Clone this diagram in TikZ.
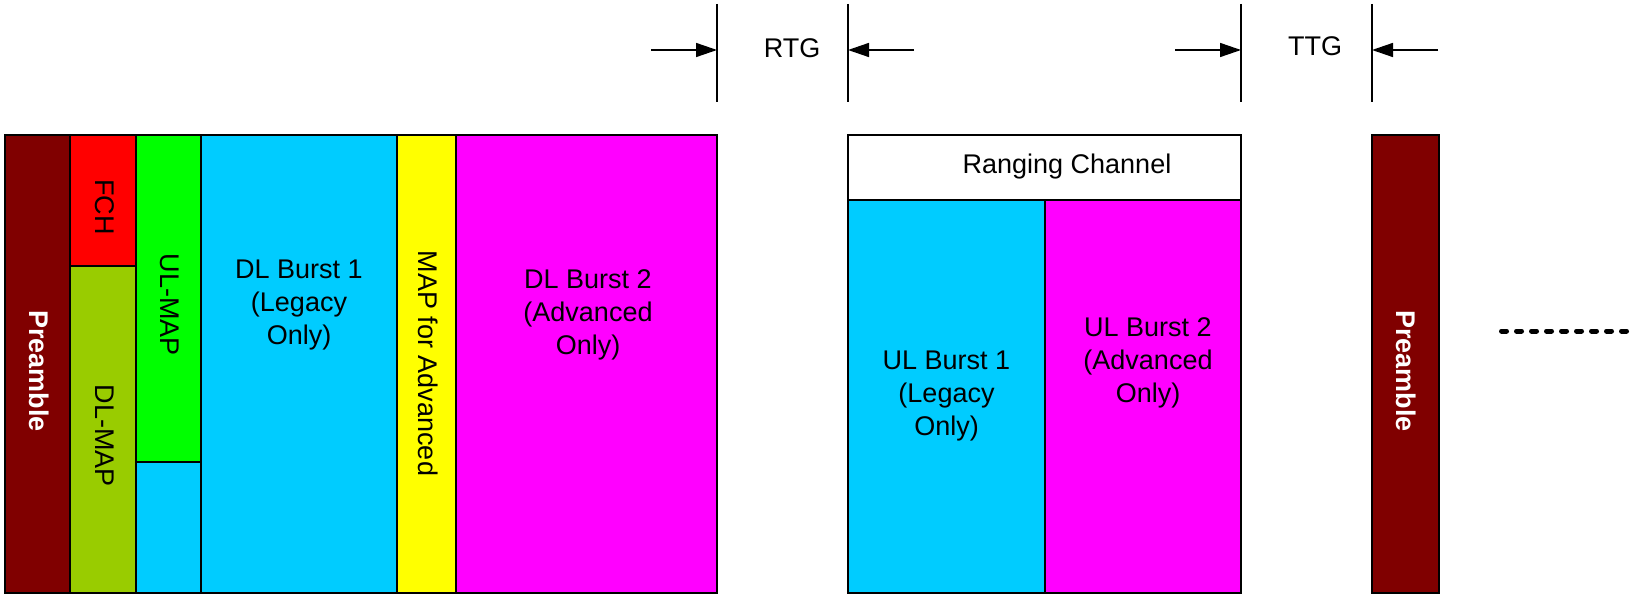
\documentclass[tikz,border=0pt]{standalone}
\usepackage{fontspec}
\setmainfont{Liberation Sans}
\usetikzlibrary{arrows.meta}
\definecolor{maroonbar}{HTML}{800000}
\definecolor{fchred}{HTML}{FF0000}
\definecolor{dlmapgreen}{HTML}{99CC00}
\definecolor{ulmapgreen}{HTML}{00FF00}
\definecolor{legacycyan}{HTML}{00CCFF}
\definecolor{mapyellow}{HTML}{FFFF00}
\definecolor{advmagenta}{HTML}{FF00FF}
\begin{document}
\begin{tikzpicture}[x=1pt,y=-1pt,
  cell/.style={draw=black,line width=1.6pt,inner sep=0pt,outer sep=0pt},
  lbl/.style={font=\fontsize{27}{33}\selectfont,align=center,inner sep=0pt},
  vlbl/.style={lbl,rotate=-90},
  prelbl/.style={vlbl,text=white,font=\fontsize{27}{33}\selectfont\bfseries},
  gapline/.style={draw=black,line width=1.7pt},
  gaparrow/.style={draw=black,line width=1.5pt,-{Triangle[length=21pt,width=14pt]}}]
\useasboundingbox (0,0) rectangle (1632,596);

% downlink subframe
\node[cell,fill=maroonbar,minimum width=65pt,minimum height=458pt] (pre1) at (37.5,364) {};
\node[cell,fill=fchred,minimum width=66pt,minimum height=131pt] (fch) at (103,200.5) {};
\node[cell,fill=dlmapgreen,minimum width=66pt,minimum height=327pt] (dlmap) at (103,429.5) {};
\node[cell,fill=ulmapgreen,minimum width=65pt,minimum height=327pt] (ulmap) at (168.5,298.5) {};
\node[cell,fill=legacycyan,minimum width=65pt,minimum height=131pt] (dlpad) at (168.5,527.5) {};
\node[cell,fill=legacycyan,minimum width=196pt,minimum height=458pt] (dlb1) at (299,364) {};
\node[cell,fill=mapyellow,minimum width=59pt,minimum height=458pt] (mapadv) at (426.5,364) {};
\node[cell,fill=advmagenta,minimum width=261pt,minimum height=458pt] (dlb2) at (586.5,364) {};

\node[prelbl] (pre1txt) at (39,371) {Preamble};
\node[vlbl] (fchtxt) at (105,207) {FCH};
\node[vlbl] (dlmaptxt) at (105,436) {DL-MAP};
\node[vlbl] (ulmaptxt) at (170,305) {UL-MAP};
\node[vlbl] (mapadvtxt) at (428,363.5) {MAP for Advanced};
\node[lbl] (dlb1txt) at (299,305) {DL Burst 1\\(Legacy\\Only)};
\node[lbl] (dlb2txt) at (588,315) {DL Burst 2\\(Advanced\\Only)};

% uplink subframe
\node[cell,fill=white,minimum width=393pt,minimum height=65pt] (rng) at (1044.5,167.5) {};
\node[cell,fill=legacycyan,minimum width=197pt,minimum height=393pt] (ulb1) at (946.5,396.5) {};
\node[cell,fill=advmagenta,minimum width=196pt,minimum height=393pt] (ulb2) at (1143,396.5) {};
\node[lbl] (rngtxt) at (1067,167) {Ranging Channel};
\node[lbl] (ulb1txt) at (946.5,396) {UL Burst 1\\(Legacy\\Only)};
\node[lbl] (ulb2txt) at (1148,363) {UL Burst 2\\(Advanced\\Only)};

% next frame
\node[cell,fill=maroonbar,minimum width=67pt,minimum height=458pt] (pre2) at (1405.5,364) {};
\node[prelbl] (pre2txt) at (1406,371) {Preamble};

% transition gaps
\coordinate (rtgLt) at (717,4);   \coordinate (rtgLb) at (717,102);
\coordinate (rtgRt) at (848,4);   \coordinate (rtgRb) at (848,102);
\coordinate (ttgLt) at (1241,4);  \coordinate (ttgLb) at (1241,102);
\coordinate (ttgRt) at (1372,4);  \coordinate (ttgRb) at (1372,102);
\coordinate (rtgIn) at (651,50);  \coordinate (rtgOut) at (914,50);
\coordinate (ttgIn) at (1175,50); \coordinate (ttgOut) at (1438,50);

\draw[gapline] (rtgLt) -- (rtgLb);
\draw[gapline] (rtgRt) -- (rtgRb);
\draw[gapline] (ttgLt) -- (ttgLb);
\draw[gapline] (ttgRt) -- (ttgRb);
\draw[gaparrow] (rtgIn) -- (rtgIn -| rtgLt);
\draw[gaparrow] (rtgOut) -- (rtgOut -| rtgRt);
\draw[gaparrow] (ttgIn) -- (ttgIn -| ttgLt);
\draw[gaparrow] (ttgOut) -- (ttgOut -| ttgRt);
\node[lbl] (rtgtxt) at (792,48) {RTG};
\node[lbl] (ttgtxt) at (1315,46) {TTG};

% continuation
\coordinate (dotsA) at (1501.5,331);
\coordinate (dotsB) at (1626.5,331);
\draw[line width=5pt,line cap=round,dash pattern=on 5pt off 10pt] (dotsA) -- (dotsB);
\end{tikzpicture}
\end{document}
